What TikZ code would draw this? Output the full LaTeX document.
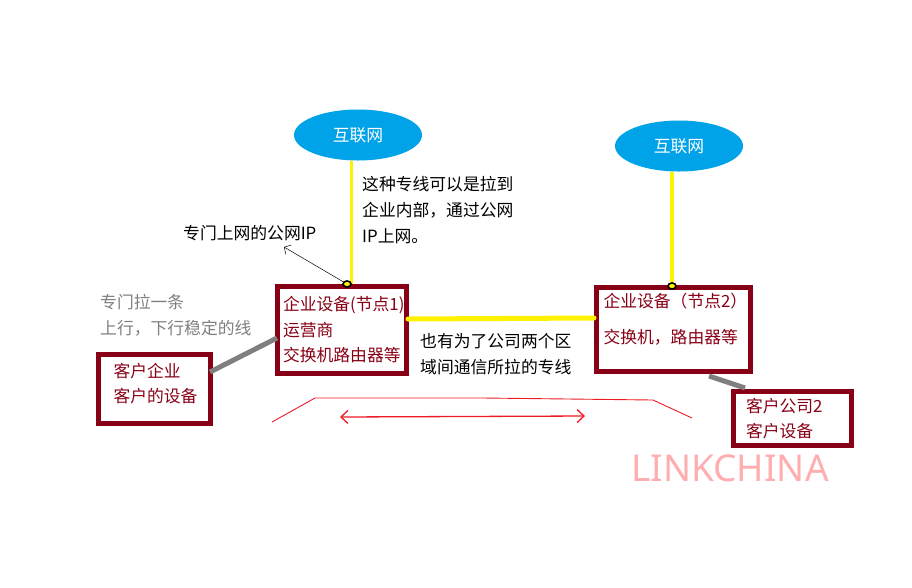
\documentclass[tikz,border=0pt]{standalone}
\usepackage{fontspec}
\usepackage{xcolor}
\usetikzlibrary{shapes.geometric,arrows.meta}
\setmainfont{Noto Sans CJK SC}
\newfontfamily\markfont{Noto Sans}
\definecolor{boxred}{HTML}{880015}
\definecolor{lineyellow}{HTML}{FFF200}
\definecolor{cloudblue}{HTML}{00A2E8}
\definecolor{linegray}{HTML}{7F7F7F}
\definecolor{penred}{HTML}{ED1C24}
\definecolor{markpink}{HTML}{FFAEB0}
\tikzset{
  note/.style={anchor=west,align=left,inner sep=0pt,font=\fontsize{16.8}{26}\selectfont},
  devbox/.style n args={3}{draw=boxred,line width=5pt,text=boxred,outer sep=0pt,align=left,
    minimum width=#1pt,minimum height=#2pt,inner xsep=#3pt,inner ysep=0pt,text width=#1pt-2*#3pt,
    font=\fontsize{16.8}{25.5}\selectfont},
  cloud/.style={ellipse,fill=cloudblue,text=white,minimum width=128pt,minimum height=51pt,
    inner sep=0pt,outer sep=0pt,text depth=0pt,font=\fontsize{16.8}{20}\selectfont},
  tap/.style={ellipse,draw=black,fill=lineyellow,line width=1.6pt,minimum width=8pt,minimum height=6pt,inner sep=0pt},
  link/.style={draw=lineyellow,line width=3.5pt},
  wire/.style={draw=linegray,line width=5pt},
  pen/.style={draw=penred,line width=0.9pt}
}
\begin{document}
\begin{tikzpicture}[x=1pt,y=-1pt]
\useasboundingbox (0,0) rectangle (912,587);
\node[cloud] (inet1) at (358,135) {互联网};
\node[cloud] (inet2) at (679,146) {互联网};
\node[devbox={129}{87}{5.5}] (node1) at (342,330) {企业设备(节点1)\\运营商\\交换机路由器等};
\node[devbox={154}{84}{7},text depth=58pt] (node2) at (673.5,329.5) {企业设备（节点2）\\[10pt]交换机，路由器等};
\node[devbox={112}{69}{15},text depth=38pt] (cust1) at (154.5,389) {客户企业\\客户的设备};
\node[devbox={118}{54}{13}] (cust2) at (792,418.5) {客户公司2\\客户设备};
\coordinate (drop1) at (351.5,284);
\coordinate (drop2) at (672,285);
\coordinate (out1) at (408,319);
\coordinate (in2) at (594,318);
\coordinate (up1) at (210,372);
\coordinate (up2) at (277,338);
\coordinate (low1) at (709,376);
\coordinate (low2) at (745,388);
\coordinate (ipend) at (284,247);
\coordinate (spanl) at (340,417);
\coordinate (spanr) at (585,416);
\draw[link] (inet1.south -| drop1) -- (drop1);
\draw[link] (inet2.south -| drop2) -- (drop2);
\draw[link,line width=5pt,line cap=round] (out1) -- (in2);
\draw[wire] (up1) -- (up2);
\draw[wire] (low1) -- (low2);
\node[tap] (tap1) at (347,284) {};
\node[tap] (tap2) at (672,286) {};
\draw[-{Straight Barb[length=5pt,width=11pt]},line width=0.5pt] (tap1) -- (ipend);
\draw[pen] (272,422) -- (315,398) -- (483,398) -- (653,400) -- (692,418);
\draw[pen,line width=1.3pt,{Straight Barb[length=7pt,width=13pt]}-{Straight Barb[length=7pt,width=13pt]}] (spanl) -- (spanr);
\node[note] (iplabel) at (183,233) {专门上网的公网IP};
\node[note] (dedicated) at (362,210) {这种专线可以是拉到\\企业内部，通过公网\\IP上网。};
\node[note,text=linegray] (steady) at (100,315) {专门拉一条\\上行，下行稳定的线};
\node[note] (between) at (420,354) {也有为了公司两个区\\域间通信所拉的专线};
\node[anchor=center,inner sep=0pt,text=markpink,font=\fontsize{37}{40}\markfont] (mark) at (730,468) {LINKCHINA};
\end{tikzpicture}
\end{document}
